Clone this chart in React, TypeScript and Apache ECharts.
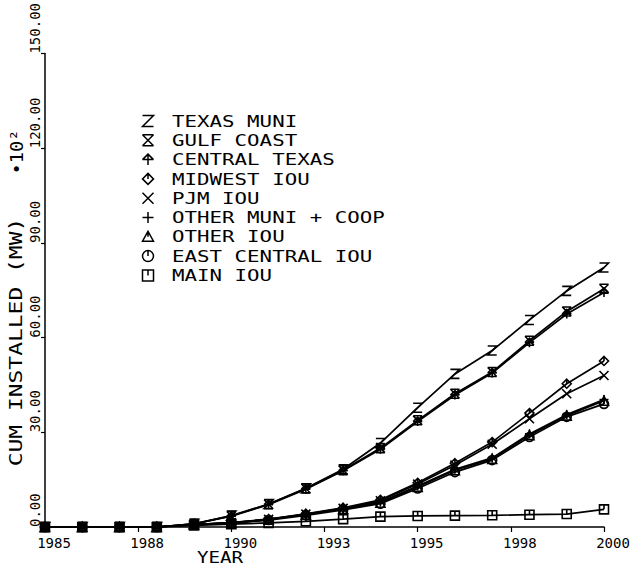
import React, { useEffect, useRef } from "react";
import * as echarts from "echarts";

// ---------- data ----------
const years = [1985, 1986, 1987, 1988, 1989, 1990, 1991, 1992, 1993, 1994, 1995, 1996, 1997, 1998, 1999, 2000];
const texasMuni = [0, 0, 0, 0, 1.0, 3.6, 7.3, 12.3, 18.3, 26.6, 37.8, 48.5, 55.9, 65.6, 74.8, 82.2];
const gulfCoast = [0, 0, 0, 0, 1.0, 3.5, 7.2, 12.2, 18.0, 25.0, 33.8, 42.2, 49.1, 59.0, 68.3, 75.5];
const centralTexas = [0, 0, 0, 0, 1.0, 3.4, 7.1, 12.0, 17.8, 24.6, 33.4, 41.8, 48.8, 58.4, 67.5, 74.3];
const midwestIou = [0, 0, 0, 0, 0.8, 1.4, 2.5, 4.2, 6.1, 8.6, 14.0, 20.2, 26.9, 36.1, 45.4, 52.6];
const pjmIou = [0, 0, 0, 0, 0.8, 1.4, 2.4, 4.1, 5.9, 8.3, 13.6, 19.6, 26.2, 34.3, 42.2, 48.0];
const otherMuniCoop = [0, 0, 0, 0, 0.8, 1.3, 2.4, 4.0, 5.8, 7.9, 13.0, 18.3, 21.9, 29.5, 35.6, 40.4];
const otherIou = [0, 0, 0, 0, 0.8, 1.3, 2.3, 3.9, 5.7, 7.7, 12.7, 18.0, 21.6, 29.1, 35.3, 40.0];
const eastCentralIou = [0, 0, 0, 0, 0.7, 1.2, 2.2, 3.7, 5.4, 7.4, 12.2, 17.4, 21.2, 28.5, 34.9, 39.0];
const mainIou = [0, 0, 0, 0, 0.5, 0.9, 1.3, 1.8, 2.5, 3.3, 3.5, 3.6, 3.7, 3.9, 4.1, 5.6];

const seriesNames = [
  "TEXAS MUNI",
  "GULF COAST",
  "CENTRAL TEXAS",
  "MIDWEST IOU",
  "PJM IOU",
  "OTHER MUNI + COOP",
  "OTHER IOU",
  "EAST CENTRAL IOU",
  "MAIN IOU",
];
const seriesValues = [texasMuni, gulfCoast, centralTexas, midwestIou, pjmIou, otherMuniCoop, otherIou, eastCentralIou, mainIou];

const yTickMin = 0;
const yTickMax = 150;
const yTickStep = 30;
const xTickMin = 1985;
const xTickMax = 2000;
const xTickStep = 2.5;

// ---------- marker shapes (10x10 unit box) ----------
const symbolPaths = [
  "M0,0 L10,0 L0,10 L10,10",
  "M0,0 L10,0 M0,10 L10,10 M0,0 L10,10 M10,0 L0,10",
  "M0,5 L5,0 L10,5 M0,5 L10,5 M5,0 L5,10",
  "M5,0 L10,5 L5,10 L0,5 Z M5,0 L5,5",
  "M0,0 L10,10 M10,0 L0,10",
  "M5,0 L5,10 M0,5 L10,5",
  "M5,0 L10,9 L0,9 Z M5,0 L5,5",
  "M0,5 A5,5 0 1 1 10,5 A5,5 0 1 1 0,5 Z M5,0 L5,5",
  "M0,0 L10,0 L10,10 L0,10 Z M5,0 L5,5",
];

symbolPaths.forEach((d, i) => {
  echarts.graphic.registerShape("sym" + i, echarts.graphic.extendPath(d, {}));
});

const FONT = "'DejaVu Sans Mono', monospace";

export default function App() {
  const ref = useRef<HTMLDivElement>(null);

  useEffect(() => {
    if (!ref.current) return;
    const chart = echarts.init(ref.current, null, { renderer: "svg" });

    const legendTop = 121;
    const legendGap = 19.3;
    const legendGraphics: any[] = [];
    seriesNames.forEach((name, i) => {
      const cy = legendTop + i * legendGap;
      const s = 1.1;
      legendGraphics.push({
        type: "sym" + i,
        x: 148 - 5 * s,
        y: cy - 5 * s,
        scaleX: s,
        scaleY: s,
        silent: true,
        style: { fill: "none", stroke: "#000", lineWidth: 1.5, strokeNoScale: true },
      });
      legendGraphics.push({
        type: "text",
        x: 172,
        y: cy,
        scaleX: 1.3,
        silent: true,
        style: {
          text: name,
          font: `16px ${FONT}`,
          fill: "#000",
          align: "left",
          verticalAlign: "middle",
        },
      });
    });

    const option: any = {
      animation: false,
      backgroundColor: "#fff",
      grid: { left: 45, right: 29, top: 52, bottom: 40, containLabel: false },
      xAxis: {
        type: "value",
        min: xTickMin,
        max: xTickMax,
        interval: xTickStep,
        splitLine: { show: false },
        axisLine: { show: true, onZero: false, lineStyle: { color: "#000", width: 1.5 } },
        axisTick: { show: true, length: 5, lineStyle: { color: "#000", width: 1.2 } },
        axisLabel: {
          formatter: (v: number) => String(Math.round(v)),
          fontFamily: FONT,
          fontSize: 14,
          color: "#000",
          margin: 9,
          padding: [0, 0, 0, 18],
          showMinLabel: true,
          showMaxLabel: true,
        },
      },
      yAxis: {
        type: "value",
        min: yTickMin,
        max: yTickMax,
        interval: yTickStep,
        splitLine: { show: false },
        axisLine: { show: true, lineStyle: { color: "#000", width: 1.5 } },
        axisTick: { show: true, length: 4, lineStyle: { color: "#000", width: 1.2 } },
        axisLabel: {
          formatter: (v: number) => v.toFixed(2),
          rotate: 90,
          align: "left",
          verticalAlign: "middle",
          fontFamily: FONT,
          fontSize: 14,
          color: "#000",
          margin: 10,
          showMinLabel: true,
          showMaxLabel: true,
        },
      },
      series: seriesNames.map((name, i) => ({
        type: "line",
        name,
        data: years.map((yr, j) => [yr, seriesValues[i][j]]),
        symbol: "path://" + symbolPaths[i],
        symbolSize: 9,
        showSymbol: true,
        showAllSymbol: true,
        silent: true,
        lineStyle: { color: "#000", width: 1.7 },
        itemStyle: { color: "rgba(0,0,0,0)", borderColor: "#000", borderWidth: 1.6 },
        z: 2,
      })),
      graphic: [
        {
          type: "text",
          x: 16,
          y: 342,
          rotation: Math.PI / 2,
          scaleX: 1.35,
          silent: true,
          style: {
            text: "CUM INSTALLED (MW)",
            font: `17px ${FONT}`,
            fill: "#000",
            align: "center",
            verticalAlign: "middle",
          },
        },
        {
          type: "text",
          x: 17,
          y: 152,
          rotation: Math.PI / 2,
          scaleX: 1.1,
          silent: true,
          style: {
            text: "•10²",
            font: `17px ${FONT}`,
            fill: "#000",
            align: "center",
            verticalAlign: "middle",
          },
        },
        {
          type: "text",
          x: 220,
          y: 558,
          scaleX: 1.2,
          silent: true,
          style: {
            text: "YEAR",
            font: `16px ${FONT}`,
            fill: "#000",
            align: "center",
            verticalAlign: "middle",
          },
        },
        ...legendGraphics,
      ],
    };

    chart.setOption(option);
    return () => chart.dispose();
  }, []);

  return <div ref={ref} style={{ width: 633, height: 567, position: "absolute", left: 0, top: 0 }} />;
}
